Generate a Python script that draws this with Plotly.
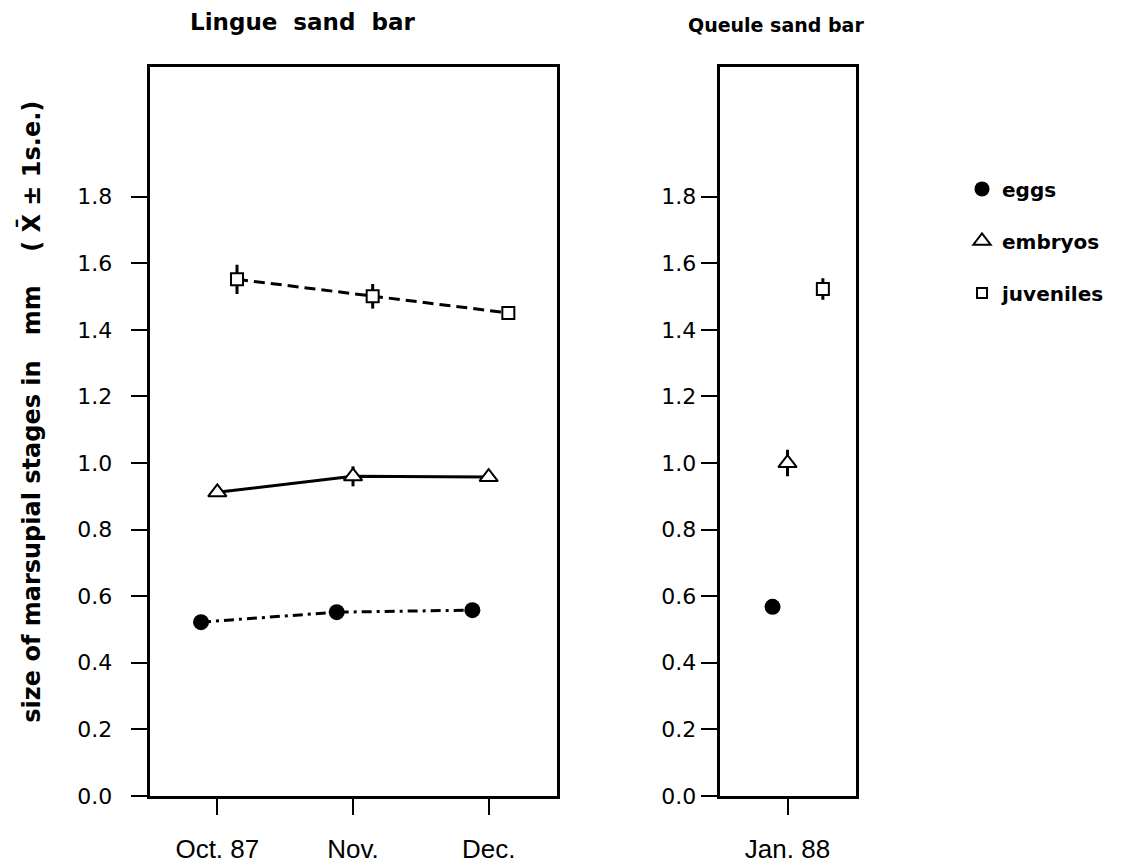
import plotly.graph_objects as go

# ---- data ----
months_lingue = ["Oct. 87", "Nov.", "Dec."]
months_queule = ["Jan. 88"]

eggs_lingue = [0.522, 0.552, 0.558]
eggs_lingue_se = [0.0, 0.0, 0.0]
embryos_lingue = [0.912, 0.960, 0.958]
embryos_lingue_se = [0.0, 0.030, 0.0]
juveniles_lingue = [1.552, 1.501, 1.451]
juveniles_lingue_se = [0.044, 0.037, 0.0]

eggs_queule = [0.568]
eggs_queule_se = [0.0]
embryos_queule = [1.000]
embryos_queule_se = [0.040]
juveniles_queule = [1.523]
juveniles_queule_se = [0.032]

y_ticks = [0.0, 0.2, 0.4, 0.6, 0.8, 1.0, 1.2, 1.4, 1.6, 1.8]

# ---- style ----
FONT = "DejaVu Sans"
BLACK = "black"
dodge_lingue = {"eggs": -0.12, "embryos": 0.0, "juveniles": 0.145}
dodge_queule = {"eggs": -0.11, "embryos": 0.0, "juveniles": 0.26}

styles = {
    "eggs": dict(symbol="circle", size=16, color=BLACK, line=dict(color=BLACK, width=0)),
    "embryos": dict(symbol="triangle-up", size=16, color="white", line=dict(color=BLACK, width=2)),
    "juveniles": dict(symbol="square", size=12, color="white", line=dict(color=BLACK, width=2)),
}
dashes = {"eggs": "10px,5px,3px,5px", "embryos": "solid", "juveniles": "11px,6px"}

fig = go.Figure()

lingue = {
    "eggs": (eggs_lingue, eggs_lingue_se),
    "embryos": (embryos_lingue, embryos_lingue_se),
    "juveniles": (juveniles_lingue, juveniles_lingue_se),
}
queule = {
    "eggs": (eggs_queule, eggs_queule_se),
    "embryos": (embryos_queule, embryos_queule_se),
    "juveniles": (juveniles_queule, juveniles_queule_se),
}

for name, (vals, se) in lingue.items():
    xs = [i + dodge_lingue[name] for i in range(len(months_lingue))]
    fig.add_trace(go.Scatter(
        x=xs, y=vals, mode="lines+markers", name=name, showlegend=False,
        line=dict(color=BLACK, width=3, dash=dashes[name]),
        marker=styles[name],
        error_y=dict(type="data", array=se, width=0, thickness=3, color=BLACK),
        xaxis="x", yaxis="y", cliponaxis=False,
    ))

for name, (vals, se) in queule.items():
    xs = [i + dodge_queule[name] for i in range(len(months_queule))]
    fig.add_trace(go.Scatter(
        x=xs, y=vals, mode="markers", name=name, showlegend=False,
        marker=styles[name],
        error_y=dict(type="data", array=se, width=0, thickness=3, color=BLACK),
        xaxis="x2", yaxis="y2", cliponaxis=False,
    ))

# legend-only traces
legend_styles = {
    "eggs": dict(symbol="circle", size=15, color=BLACK),
    "embryos": dict(symbol="triangle-up-open", size=15, color=BLACK, line=dict(color=BLACK, width=2)),
    "juveniles": dict(symbol="square-open", size=10, color=BLACK, line=dict(color=BLACK, width=2)),
}
for name in ["eggs", "embryos", "juveniles"]:
    fig.add_trace(go.Scatter(
        x=[None], y=[None], mode="markers", name=name, marker=legend_styles[name],
        legendgroup=name, showlegend=True, xaxis="x2", yaxis="y2",
    ))

axis_common = dict(
    showline=True, linecolor=BLACK, linewidth=2.5, mirror=True,
    ticks="outside", ticklen=16, tickwidth=2, tickcolor=BLACK,
    showgrid=False, zeroline=False,
)

y_dom = [(866 - 808) / 866, (866 - 68) / 866]
XFONT = dict(family="Liberation Sans Narrow, Liberation Sans", size=26)
YFONT = dict(family=FONT, size=22)

fig.update_layout(
    width=1133, height=866,
    margin=dict(l=0, r=0, t=0, b=0),
    paper_bgcolor="white", plot_bgcolor="white",
    font=dict(family=FONT, color=BLACK, size=19),
    xaxis=dict(domain=[149.5 / 1133, 556.5 / 1133], range=[-0.5, 2.5],
               tickvals=list(range(len(months_lingue))), ticktext=months_lingue,
               tickfont=XFONT, ticklabelstandoff=12, anchor="y", **axis_common),
    yaxis=dict(domain=y_dom, range=[0, 2.19], tickvals=y_ticks,
               ticktext=[f"{v:.1f}" for v in y_ticks],
               tickfont=YFONT, ticklabelstandoff=14, anchor="x", **axis_common),
    xaxis2=dict(domain=[719.5 / 1133, 855.5 / 1133], range=[-0.5, 0.5],
                tickvals=list(range(len(months_queule))), ticktext=["Jan. 88"],
                tickfont=XFONT, ticklabelstandoff=12, anchor="y2", **axis_common),
    yaxis2=dict(domain=y_dom, range=[0, 2.19], tickvals=y_ticks,
                ticktext=[f"{v:.1f}" for v in y_ticks],
                tickfont=YFONT, ticklabelstandoff=0, anchor="x2", **axis_common),
    legend=dict(x=962 / 1133, y=(866 - 172) / 866, xanchor="left", yanchor="top",
                font=dict(family=FONT, size=20, weight="bold"),
                tracegroupgap=23, bgcolor="rgba(0,0,0,0)", itemsizing="trace"),
    showlegend=True,
)

fig.add_annotation(text="Lingue\u00a0\u00a0sand\u00a0\u00a0bar", xref="paper", yref="paper",
                   x=302 / 1133, y=(866 - 22) / 866, xanchor="center", yanchor="middle",
                   showarrow=False, font=dict(family=FONT, size=23, weight="bold"))
fig.add_annotation(text="Queule\u00a0sand\u00a0bar", xref="paper", yref="paper",
                   x=776 / 1133, y=(866 - 25) / 866, xanchor="center", yanchor="middle",
                   showarrow=False, font=dict(family=FONT, size=19, weight="bold"))
fig.add_annotation(text="size\u00a0of\u00a0marsupial\u00a0stages\u00a0in\u00a0\u00a0\u00a0mm\u00a0\u00a0\u00a0\u00a0(\u00a0X\u0304\u00a0\u00b1\u00a01s.e.)",
                   xref="paper", yref="paper", x=30 / 1133, y=(866 - 418) / 866,
                   xanchor="center", yanchor="middle", textangle=-90,
                   showarrow=False, font=dict(family=FONT, size=24, weight="bold"))

fig.write_html("out.html")
